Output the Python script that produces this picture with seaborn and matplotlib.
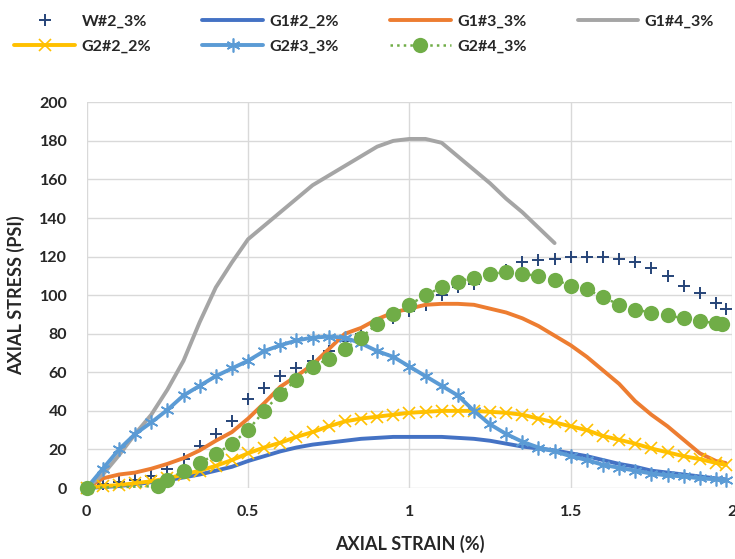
import matplotlib
matplotlib.use("Agg")
import matplotlib.pyplot as plt
from matplotlib.lines import Line2D
import seaborn as sns

# strain values (%) shared by most series
strain = [0.00, 0.05, 0.10, 0.15, 0.20, 0.25, 0.30, 0.35, 0.40, 0.45,
          0.50, 0.55, 0.60, 0.65, 0.70, 0.75, 0.80, 0.85, 0.90, 0.95,
          1.00, 1.05, 1.10, 1.15, 1.20, 1.25, 1.30, 1.35, 1.40, 1.45,
          1.50, 1.55, 1.60, 1.65, 1.70, 1.75, 1.80, 1.85, 1.90, 1.95, 1.98]

w2_3 = [0, 2, 3, 4, 6, 10, 15, 22, 28, 35,
        46, 52, 58, 62, 66, 71, 76, 80, 84, 88,
        92, 95, 100, 104, 106, 110, 113, 117, 118, 119,
        120, 120, 120, 119, 117, 114, 110, 105, 101, 96, 93]

g1_2_2 = [0, 0.5, 1, 2, 3, 4, 5.5, 7, 9, 11,
          14, 16.5, 19, 21, 22.5, 23.5, 24.5, 25.5, 26, 26.5,
          26.5, 26.5, 26.5, 26, 25.5, 24.5, 23, 21.5, 20.5, 19.5,
          18, 16.5, 14.5, 12.5, 11, 9, 8, 7, 6, 5, 4.5]

g1_3_3 = [0, 5, 7, 8, 10, 12.5, 15.5, 19.5, 24.5, 29,
          36, 44, 52.5, 58, 64, 72, 80, 83, 87.5, 91,
          93, 95, 95.5, 95.5, 95, 93, 91, 88, 84, 79,
          74, 68, 61, 54, 45, 38, 32, 25, 18, 14, 13]

g2_2_2 = [0, 1, 1.5, 2.5, 3.5, 5, 7, 9, 11.5, 14.5,
          18, 21, 23.5, 26.5, 29, 32, 34.5, 36, 37, 38,
          39, 39.5, 40, 40, 40, 39.5, 39, 38, 36, 34,
          32, 30, 27, 25, 23, 20.5, 18.5, 16.5, 15, 13, 12]

g2_3_3 = [0, 10, 20, 28, 34, 40.5, 48, 53, 58, 62,
          66, 71, 74, 76.5, 78, 78.5, 78, 75, 71, 68,
          63, 58, 53, 48, 40, 33, 28, 24, 21, 19,
          16.5, 14.5, 12, 10.5, 9, 7.5, 6.5, 6, 5, 4.5, 4]

# G1#4 stops early
strain_g1_4 = [0.00, 0.05, 0.10, 0.15, 0.20, 0.25, 0.30, 0.35, 0.40, 0.45,
               0.50, 0.55, 0.60, 0.65, 0.70, 0.75, 0.80, 0.85, 0.90, 0.95,
               1.00, 1.05, 1.10, 1.15, 1.20, 1.25, 1.30, 1.35, 1.40, 1.45]
g1_4_3 = [0, 7, 17, 28, 38, 51, 66, 86, 104, 117,
          129, 136, 143, 150, 157, 162, 167, 172, 177, 180,
          181, 181, 179, 172, 165, 158, 150, 143, 135, 127]

# G2#4 has a gap after the first point
strain_g2_4 = [0.00, 0.22, 0.25, 0.30, 0.35, 0.40, 0.45, 0.50, 0.55, 0.60,
               0.65, 0.70, 0.75, 0.80, 0.85, 0.90, 0.95, 1.00, 1.05, 1.10,
               1.15, 1.20, 1.25, 1.30, 1.35, 1.40, 1.45, 1.50, 1.55, 1.60,
               1.65, 1.70, 1.75, 1.80, 1.85, 1.90, 1.95, 1.97]
g2_4_3 = [0, 1, 4, 9, 13, 17.5, 23, 30, 40, 49,
          56, 63, 67, 72, 78, 85, 90, 95, 100, 104,
          107, 109, 111, 112, 111, 110, 108, 105, 103, 99,
          95, 92.5, 91, 89.5, 88, 86.5, 85.5, 85]

sns.set_style("whitegrid")
plt.rcParams['font.family'] = ['Lato', 'DejaVu Sans']
plt.rcParams['font.weight'] = 'bold'

fig = plt.figure(figsize=(7.35, 5.59), dpi=100)
ax = fig.add_axes([0.118, 0.127, 0.878, 0.690])

sns.scatterplot(x=strain, y=w2_3, ax=ax, marker='+', color='#264478',
                s=85, linewidth=1.4, label='W#2_3%', clip_on=False, zorder=3)
sns.lineplot(x=strain, y=g1_2_2, ax=ax, color='#4472C4', linewidth=2.8,
             label='G1#2_2%', clip_on=False, zorder=3)
sns.lineplot(x=strain, y=g1_3_3, ax=ax, color='#ED7D31', linewidth=2.8,
             label='G1#3_3%', clip_on=False, zorder=3)
sns.lineplot(x=strain_g1_4, y=g1_4_3, ax=ax, color='#A5A5A5', linewidth=2.8,
             label='G1#4_3%', clip_on=False, zorder=3)
sns.lineplot(x=strain, y=g2_2_2, ax=ax, color='#FFC000', linewidth=2.8,
             marker='x', markersize=8, markeredgewidth=1.2,
             markeredgecolor='#FFC000',
             label='G2#2_2%', clip_on=False, zorder=3)
sns.lineplot(x=strain, y=g2_3_3, ax=ax, color='#5B9BD5', linewidth=2.8,
             marker=(6, 2, 0), markersize=10, markeredgewidth=1.2,
             markeredgecolor='#5B9BD5',
             label='G2#3_3%', clip_on=False, zorder=3)
sns.lineplot(x=strain_g2_4, y=g2_4_3, ax=ax, color='#70AD47', linewidth=1.8,
             linestyle=':', marker='o', markersize=11, markeredgewidth=0,
             label='G2#4_3%', clip_on=False, zorder=3)

ax.set_xlim(0, 2)
ax.set_ylim(0, 200)
ax.set_xticks([0, 0.5, 1, 1.5, 2])
ax.set_xticklabels(['0', '0.5', '1', '1.5', '2'])
ax.set_yticks(range(0, 201, 20))
ax.grid(True, color='#D9D9D9', linewidth=1)
for s in ax.spines.values():
    s.set_visible(False)
ax.tick_params(axis='both', length=0, labelsize=11.5, colors='#262626')
ax.tick_params(axis='x', pad=12)
ax.tick_params(axis='y', pad=14)
ax.set_xlabel('AXIAL STRAIN (%)', fontsize=13, fontweight='bold',
              color='#262626', labelpad=12)
ax.set_ylabel('AXIAL STRESS (PSI)', fontsize=13, fontweight='bold',
              color='#262626', labelpad=10)

handles, labels = ax.get_legend_handles_labels()
ax.get_legend().remove()
# centred '+' in the legend like the other handles
handles[0] = Line2D([], [], linestyle='none', marker='+', color='#264478',
                    markersize=9, markeredgewidth=1.4)
# legend fills column by column, so reorder to get the rows right
order = [0, 4, 1, 5, 2, 6, 3]
fig.legend([handles[i] for i in order], [labels[i] for i in order],
           loc='upper left', bbox_to_anchor=(0.0, 1.0),
           ncol=4, frameon=False, fontsize=11.5, handlelength=3.8,
           columnspacing=3.2, handletextpad=0.4, labelspacing=0.7)

plt.savefig('out.png', dpi=100)
